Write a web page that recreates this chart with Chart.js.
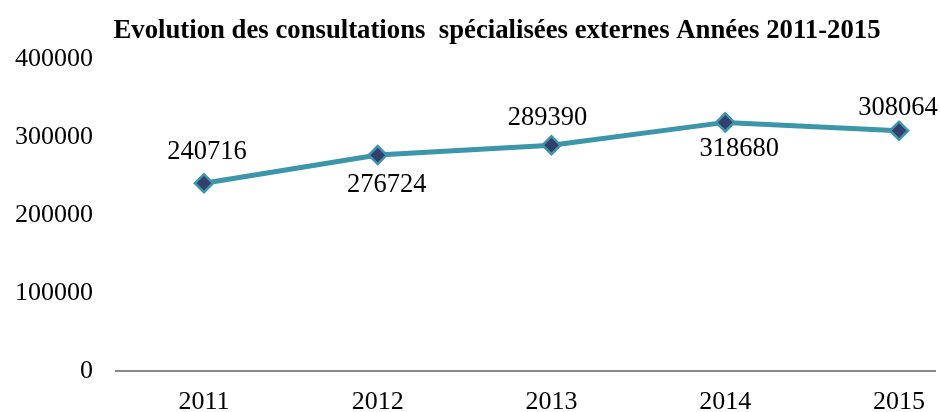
<!DOCTYPE html>
<html>
<head>
<meta charset="utf-8">
<script src="https://cdn.jsdelivr.net/npm/chart.js@4/dist/chart.umd.min.js"></script>
<style>
  html, body { margin: 0; padding: 0; background: #ffffff; }
  #wrap { width: 940px; height: 412px; position: relative; }
</style>
</head>
<body>
<div id="wrap"><canvas id="c"></canvas></div>
<script>
// Years and number of specialised outpatient consultations
const years = [2011, 2012, 2013, 2014, 2015];
const consultations = [240716, 276724, 289390, 318680, 308064];
const yTicks = [0, 100000, 200000, 300000, 400000];
const chartTitle = 'Evolution des consultations  spécialisées externes Années 2011-2015';

// Value label placement relative to each point (px)
const labelDx = [3, 9, -4, 14, -1];
const labelDy = [-31, 30, -27, 27, -23];

const serif = '"Liberation Serif", "Times New Roman", serif';

// Bold, horizontally condensed title
const titlePlugin = {
  id: 'condensedTitle',
  afterDraw(chart) {
    const ctx = chart.ctx;
    ctx.save();
    ctx.font = 'bold 28px ' + serif;
    ctx.fillStyle = '#000';
    ctx.textBaseline = 'alphabetic';
    ctx.textAlign = 'center';
    const w = ctx.measureText(chartTitle).width;
    const sx = 767 / w;
    ctx.translate(497, 38);
    ctx.scale(sx, 1);
    ctx.fillText(chartTitle, 0, 0);
    ctx.restore();
  }
};

const valueLabels = {
  id: 'valueLabels',
  afterDatasetsDraw(chart) {
    const ctx = chart.ctx;
    const meta = chart.getDatasetMeta(0);
    ctx.save();
    ctx.font = '26.5px ' + serif;
    ctx.fillStyle = '#000';
    ctx.textAlign = 'center';
    ctx.textBaseline = 'middle';
    meta.data.forEach((pt, i) => {
      const v = chart.data.datasets[0].data[i].y;
      ctx.fillText(String(v), pt.x + labelDx[i], pt.y + labelDy[i]);
    });
    ctx.restore();
  }
};

new Chart(document.getElementById('c'), {
  type: 'line',
  data: {
    datasets: [{
      data: years.map((y, i) => ({ x: y, y: consultations[i] })),
      borderColor: '#3B96A9',
      borderWidth: 5,
      tension: 0,
      pointStyle: 'rectRot',
      pointRadius: 9,
      pointHoverRadius: 9,
      pointBackgroundColor: '#343F6E',
      pointBorderColor: '#3B96A9',
      pointBorderWidth: 2.5
    }]
  },
  options: {
    responsive: true,
    maintainAspectRatio: false,
    animation: false,
    events: [],
    layout: { autoPadding: false, padding: { top: 59, left: -8, right: 5, bottom: -14 } },
    plugins: { legend: { display: false }, tooltip: { enabled: false }, title: { display: false } },
    scales: {
      x: {
        type: 'linear',
        min: 2010.494,
        max: 2015.207,
        afterBuildTicks(scale) { scale.ticks = years.map(v => ({ value: v })); },
        afterFit(scale) { scale.paddingRight = 0; },
        grid: { display: false },
        border: { display: true, color: '#888888', width: 2 },
        ticks: {
          color: '#000',
          font: { family: serif, size: 26 },
          padding: 8,
          maxRotation: 0,
          autoSkip: false,
          callback: v => String(v)
        }
      },
      y: {
        min: 0,
        max: 400000,
        afterBuildTicks(scale) { scale.ticks = yTicks.map(v => ({ value: v })); },
        grid: { display: false, drawTicks: false },
        border: { display: false },
        ticks: {
          color: '#000',
          font: { family: serif, size: 26 },
          padding: 23,
          callback: v => String(v)
        }
      }
    }
  },
  plugins: [titlePlugin, valueLabels]
});
</script>
</body>
</html>
